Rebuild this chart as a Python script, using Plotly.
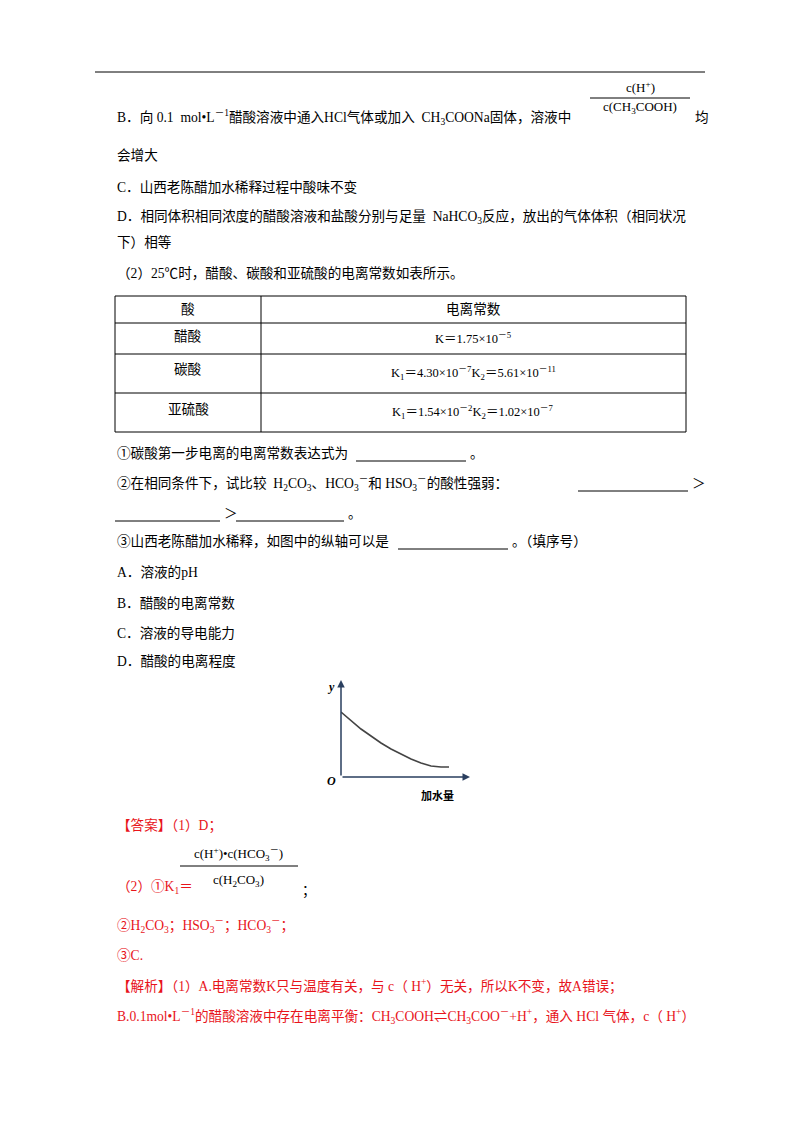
import plotly.graph_objects as go

# curve data (加水量 vs y)
water = [0, 1, 2, 3, 4, 5, 6, 7, 8, 9, 10, 10.8]
yvals = [6.5, 5.6, 4.8, 4.1, 3.4, 2.8, 2.3, 1.8, 1.4, 1.1, 1.0, 1.0]

W, H = 800, 1132
OFF = 8
fig = go.Figure()
fig.add_trace(go.Scatter(x=water, y=yvals, mode="lines", line=dict(color="#444", width=1.6),
                         xaxis="x2", yaxis="y2", showlegend=False))
F = "Times New Roman, Liberation Serif, Noto Sans CJK SC"
ann = []
def t(x, y, s, size=13.6, color="black", anchor="left"):
    ann.append(dict(x=x, y=y, xref="x", yref="y", text=s, showarrow=False, xanchor=anchor,
                    yanchor="middle", font=dict(family=F, size=size, color=color)))
shapes = []
def line(x0, y0, x1, y1, color="black", w=1):
    shapes.append(dict(type="line", x0=x0, y0=y0, x1=x1, y1=y1, xref="x", yref="y",
                       line=dict(color=color, width=w)))

RED = "#e8141b"
line(95, 72, 705, 72)
t(115, 117, "B．向 0.1  mol•L<sup>－1</sup>醋酸溶液中通入HCl气体或加入  CH<sub>3</sub>COONa固体，溶液中")
t(640, 87, "c(H<sup>+</sup>)", 13, anchor="center")
line(590, 98, 690, 98)
t(640, 107, "c(CH<sub>3</sub>COOH)", 13, anchor="center")
t(693, 117, "均")
t(115, 155, "会增大")
t(115, 187, "C．山西老陈醋加水稀释过程中酸味不变")
t(115, 217, "D．相同体积相同浓度的醋酸溶液和盐酸分别与足量  NaHCO<sub>3</sub>反应，放出的气体体积（相同状况")
t(115, 242, "下）相等")
t(115, 273, "（2）25℃时，醋酸、碳酸和亚硫酸的电离常数如表所示。")
# table
for yy in [296, 323, 354, 393, 432]:
    line(115, yy, 686, yy)
for xx in [115, 261, 686]:
    line(xx, 296, xx, 432)
t(188, 309, "酸", anchor="center"); t(473, 309, "电离常数", anchor="center")
t(188, 336, "醋酸", anchor="center"); t(473, 338, "K＝1.75×10<sup>－5</sup>", 12.5, anchor="center")
t(188, 369, "碳酸", anchor="center"); t(473, 373, "K<sub>1</sub>＝4.30×10<sup>－7</sup>K<sub>2</sub>＝5.61×10<sup>－11</sup>", 12.5, anchor="center")
t(188, 409, "亚硫酸", anchor="center"); t(473, 412, "K<sub>1</sub>＝1.54×10<sup>－2</sup>K<sub>2</sub>＝1.02×10<sup>－7</sup>", 12.5, anchor="center")
t(115, 453, "①碳酸第一步电离的电离常数表达式为"); line(356, 461, 466, 461); t(468, 453, "。")
t(115, 483, "②在相同条件下，试比较  H<sub>2</sub>CO<sub>3</sub>、HCO<sub>3</sub><sup>－</sup>和 HSO<sub>3</sub><sup>－</sup>的酸性强弱：")
line(578, 491, 688, 491); t(690, 483, "＞")
line(115, 521, 220, 521); t(222, 513, "＞"); line(236, 521, 344, 521); t(346, 513, "。")
t(115, 541, "③山西老陈醋加水稀释，如图中的纵轴可以是"); line(398, 549, 508, 549); t(510, 541, "。（填序号）")
t(115, 572, "A．溶液的pH"); t(115, 603, "B．醋酸的电离常数")
t(115, 633, "C．溶液的导电能力"); t(115, 661, "D．醋酸的电离程度")
# graph axes
ann.append(dict(x=341, y=680, ax=341, ay=777, xref="x", yref="y", axref="x", ayref="y",
                showarrow=True, arrowhead=2, arrowsize=1, arrowwidth=1.5, text=""))
ann.append(dict(x=470, y=777, ax=341, ay=777, xref="x", yref="y", axref="x", ayref="y",
                showarrow=True, arrowhead=2, arrowsize=1, arrowwidth=1.5, text=""))
t(337, 687, "<b><i>y</i></b>", 12, anchor="right")
t(338, 781, "<b><i>O</i></b>", 12, anchor="right")
t(437, 795, "<b>加水量</b>", 11, anchor="center")
# answer
t(115, 825, "【答案】（1）D；", color=RED)
t(238, 854, "c(H<sup>+</sup>)•c(HCO<sub>3</sub><sup>－</sup>)", 13, anchor="center")
line(180, 866, 298, 866)
t(238, 880, "c(H<sub>2</sub>CO<sub>3</sub>)", 13, anchor="center")
t(115, 887, "（2）①K<sub>1</sub>＝", color=RED); t(300, 891, "；")
t(115, 925, "②H<sub>2</sub>CO<sub>3</sub>；HSO<sub>3</sub><sup>－</sup>；HCO<sub>3</sub><sup>－</sup>；", color=RED)
t(115, 955, "③C.", color=RED)
t(115, 986, "【解析】（1）A.电离常数K只与温度有关，与 c（ H<sup>+</sup>）无关，所以K不变，故A错误；", color=RED)
t(115, 1016, "B.0.1mol•L<sup>－1</sup>的醋酸溶液中存在电离平衡：CH<sub>3</sub>COOH⇌CH<sub>3</sub>COO<sup>－</sup>+H<sup>+</sup>，通入 HCl 气体，c（ H<sup>+</sup>）", color=RED)

fig.update_layout(width=W, height=H, margin=dict(l=0, r=0, t=0, b=0),
                  paper_bgcolor="white", plot_bgcolor="rgba(0,0,0,0)",
                  xaxis=dict(range=[OFF, W + OFF], visible=False, domain=[0, 1], fixedrange=True),
                  yaxis=dict(range=[H + OFF, OFF], visible=False, domain=[0, 1], fixedrange=True),
                  xaxis2=dict(range=[0, 12.9], domain=[(341-OFF)/W, (470-OFF)/W], visible=False, anchor="y2"),
                  yaxis2=dict(range=[0, 9.7], domain=[1-(777-OFF)/H, 1-(680-OFF)/H], visible=False, anchor="x2"),
                  annotations=ann, shapes=shapes, showlegend=False)
fig.add_trace(go.Scatter(x=[OFF+1], y=[OFF+1], mode="markers", marker=dict(opacity=0), showlegend=False))
fig.write_html("out.html")
